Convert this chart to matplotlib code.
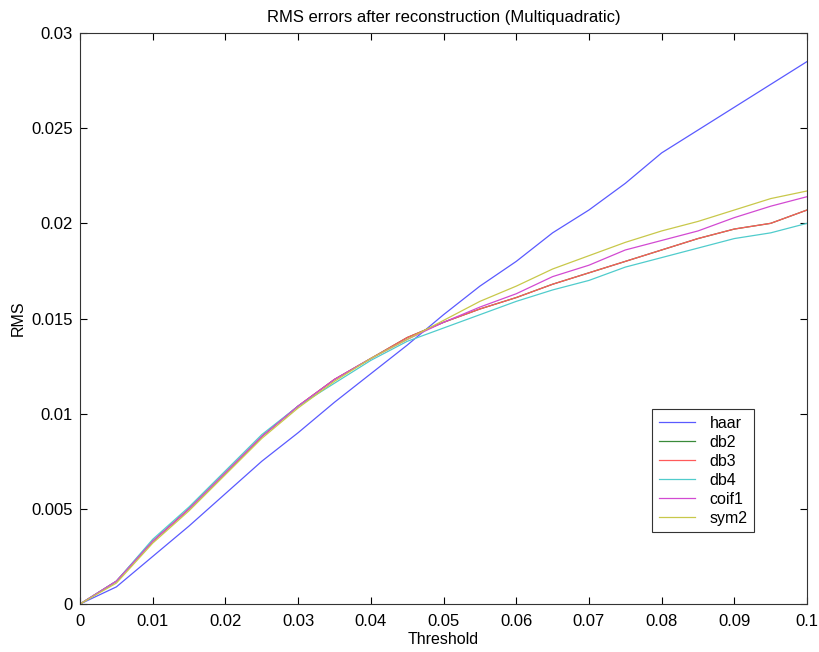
import matplotlib
matplotlib.use("Agg")
import matplotlib.pyplot as plt
import numpy as np

# threshold values
threshold = [0.0, 0.005, 0.01, 0.015, 0.02, 0.025, 0.03, 0.035, 0.04, 0.045, 0.05,
             0.055, 0.06, 0.065, 0.07, 0.075, 0.08, 0.085, 0.09, 0.095, 0.1]

# RMS errors
haar = [0.0, 0.0009, 0.0025, 0.0041, 0.0058, 0.0075, 0.0090, 0.0106, 0.0121, 0.0136, 0.0152,
        0.0167, 0.0180, 0.0195, 0.0207, 0.0221, 0.0237, 0.0249, 0.0261, 0.0273, 0.0285]
db2 = [0.0, 0.0012, 0.0033, 0.0050, 0.0069, 0.0088, 0.0104, 0.0118, 0.0129, 0.0140, 0.0148,
       0.0155, 0.0161, 0.0168, 0.0174, 0.0180, 0.0186, 0.0192, 0.0197, 0.0200, 0.0207]
db3 = [0.0, 0.0012, 0.0033, 0.0050, 0.0069, 0.0088, 0.0104, 0.0118, 0.0129, 0.0140, 0.0148,
       0.0155, 0.0161, 0.0168, 0.0174, 0.0180, 0.0186, 0.0192, 0.0197, 0.0200, 0.0207]
db4 = [0.0, 0.0012, 0.0034, 0.0051, 0.0070, 0.0089, 0.0104, 0.0116, 0.0128, 0.0138, 0.0145,
       0.0152, 0.0159, 0.0165, 0.0170, 0.0177, 0.0182, 0.0187, 0.0192, 0.0195, 0.0200]
coif1 = [0.0, 0.0012, 0.0033, 0.0050, 0.0069, 0.0088, 0.0104, 0.0118, 0.0129, 0.0139, 0.0148,
         0.0156, 0.0163, 0.0172, 0.0178, 0.0186, 0.0191, 0.0196, 0.0203, 0.0209, 0.0214]
sym2 = [0.0, 0.0011, 0.0032, 0.0049, 0.0068, 0.0087, 0.0103, 0.0117, 0.0129, 0.0139, 0.0149,
        0.0159, 0.0167, 0.0176, 0.0183, 0.0190, 0.0196, 0.0201, 0.0207, 0.0213, 0.0217]

names = ["haar", "db2", "db3", "db4", "coif1", "sym2"]
series = [haar, db2, db3, db4, coif1, sym2]
colors = ["#5a5aff", "#3a8a3a", "#ff5a5a", "#50cccc", "#d24ad2", "#c8c84a"]

plt.rcParams['font.family'] = ['Liberation Sans', 'DejaVu Sans']

fig = plt.figure(figsize=(8.2, 6.52), dpi=100)
ax = fig.add_axes([0.0976, 0.0736, 0.8866, 0.8758])

for name, ys, c in zip(names, series, colors):
    ax.plot(threshold, ys, color=c, lw=0.9, label=name)

ax.set_xlim(0, 0.1)
ax.set_ylim(0, 0.03)
ax.set_xticks(np.arange(0, 0.1001, 0.01))
ax.set_xticklabels(["0", "0.01", "0.02", "0.03", "0.04", "0.05", "0.06", "0.07", "0.08", "0.09", "0.1"])
ax.set_yticks(np.arange(0, 0.03001, 0.005))
ax.set_yticklabels(["0", "0.005", "0.01", "0.015", "0.02", "0.025", "0.03"])
ax.tick_params(axis="x", pad=7)
ax.tick_params(direction="in", top=True, right=True, labelsize=12, length=5)
ax.tick_params(axis="y", pad=5)
for s in ax.spines.values():
    s.set_color("#333333")
    s.set_linewidth(0.8)

ax.set_title("RMS errors after reconstruction (Multiquadratic)", fontsize=12, pad=8)
ax.set_xlabel("Threshold", fontsize=11.5, labelpad=2)
ax.set_ylabel("RMS", fontsize=11.5, labelpad=4)

leg = ax.legend(loc="lower left", bbox_to_anchor=(0.787, 0.126), borderaxespad=0,
                fontsize=11.5, fancybox=False, framealpha=1, edgecolor="#333333",
                handlelength=2.3, labelspacing=0.25, borderpad=0.4, handletextpad=0.9)
leg.get_frame().set_linewidth(0.8)

fig.savefig("out.png", dpi=100)
